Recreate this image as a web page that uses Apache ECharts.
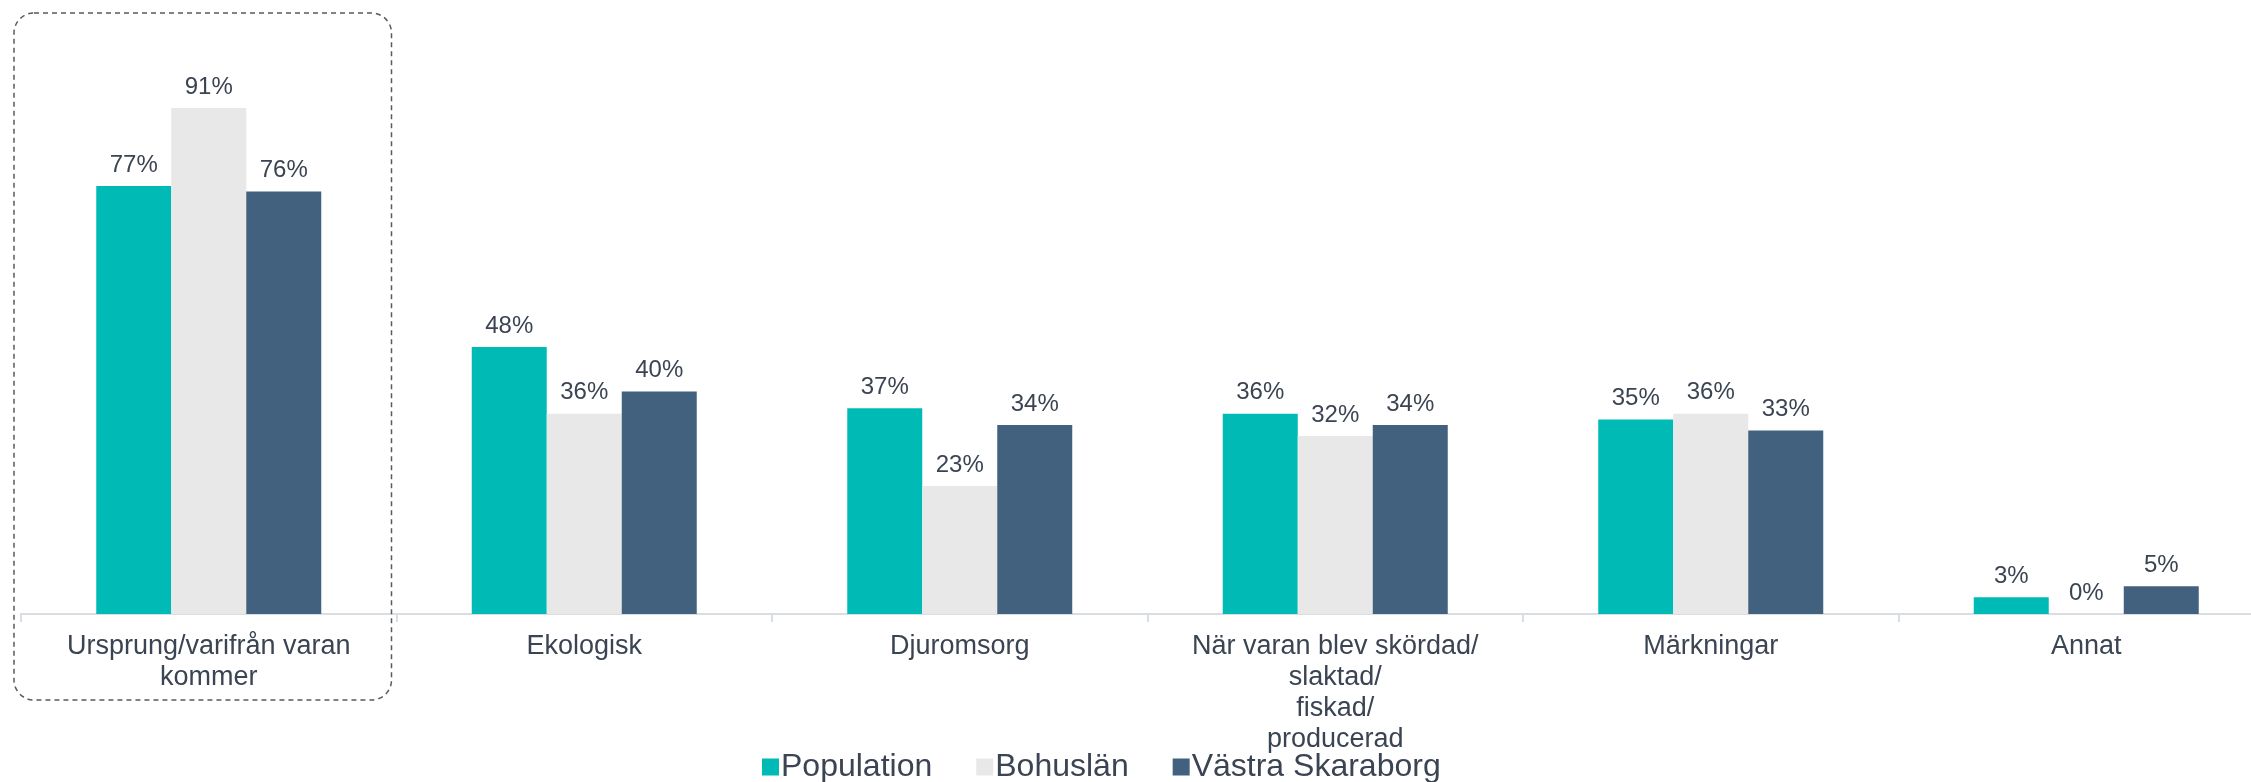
<!DOCTYPE html>
<html>
<head>
<meta charset="utf-8">
<style>
  html, body { margin: 0; padding: 0; background: #ffffff; }
  #chart { width: 2251px; height: 782px; }
</style>
<script src="https://cdn.jsdelivr.net/npm/echarts@6/dist/echarts.min.js"></script>
</head>
<body>
<div id="chart"></div>
<script>
const categories = [
  "Ursprung/varifrån varan\nkommer",
  "Ekologisk",
  "Djuromsorg",
  "När varan blev skördad/\nslaktad/\nfiskad/\nproducerad",
  "Märkningar",
  "Annat"
];
const seriesNames = ["Population", "Bohuslän", "Västra Skaraborg"];
const population = [77, 48, 37, 36, 35, 3];
const bohuslan = [91, 36, 23, 32, 36, 0];
const vastraSkaraborg = [76, 40, 34, 34, 33, 5];
const colors = ["#00BBB5", "#E8E8E8", "#42617F"];

const FONT = "'Liberation Sans', Arial, sans-serif";
const TEXT = "#3b4452";

const chart = echarts.init(document.getElementById('chart'), null, { renderer: 'canvas' });

function mk(name, data, color) {
  return {
    name: name,
    type: 'bar',
    data: data,
    barWidth: 75,
    barGap: '0%',
    itemStyle: { color: color },
    label: {
      show: true,
      position: 'top',
      distance: 9,
      formatter: '{c}%',
      fontFamily: FONT,
      fontSize: 24,
      color: TEXT
    }
  };
}

const option = {
  animation: false,
  backgroundColor: '#ffffff',
  color: colors,
  grid: { left: 21, top: 58, width: 2253, height: 556, containLabel: false, outerBoundsMode: 'none' },
  legend: {
    data: seriesNames,
    left: 757,
    top: 746,
    itemWidth: 17,
    itemHeight: 17,
    itemGap: 44,
    icon: 'rect',
    textStyle: { fontFamily: FONT, fontSize: 32, color: TEXT, padding: [0, 0, 0, -3] }
  },
  xAxis: {
    type: 'category',
    data: categories,
    axisLine: { show: true, lineStyle: { color: '#D9DEE3', width: 2 } },
    axisTick: { show: true, alignWithLabel: false, length: 8, lineStyle: { color: '#D9DEE3', width: 2 } },
    axisLabel: {
      fontFamily: FONT,
      fontSize: 27,
      lineHeight: 31,
      color: TEXT,
      margin: 17,
      interval: 0
    }
  },
  yAxis: {
    type: 'value',
    min: 0,
    max: 100,
    show: false,
    splitLine: { show: false }
  },
  series: [
    mk(seriesNames[0], population, colors[0]),
    mk(seriesNames[1], bohuslan, colors[1]),
    mk(seriesNames[2], vastraSkaraborg, colors[2])
  ]
};

chart.setOption(option);

// Dashed highlight box around first category, positioned from the axis scale
const c0 = chart.convertToPixel({ xAxisIndex: 0 }, 0);
const c1 = chart.convertToPixel({ xAxisIndex: 0 }, 1);
const band = c1 - c0;
const boxLeft = c0 - band / 2 - 7;
const boxRight = c0 + band / 2 - 5;
chart.setOption({
  graphic: [{
    type: 'rect',
    shape: { x: boxLeft, y: 13, width: boxRight - boxLeft, height: 687, r: 20 },
    style: { fill: 'none', stroke: '#555b63', lineWidth: 1.5, lineDash: [5, 4] },
    z: 10
  }]
});
</script>
</body>
</html>
